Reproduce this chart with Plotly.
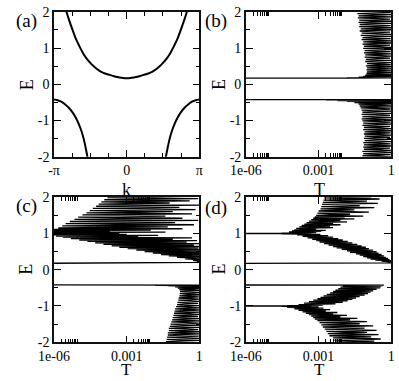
import plotly.graph_objects as go

SERIF = "Liberation Serif, Times New Roman, serif"
W, H = 399, 381

# ---- panel (a): band structure, k in units of pi ----
k_up = [-0.86, -0.84, -0.80, -0.75, -0.70, -0.65, -0.60, -0.55, -0.50, -0.45, -0.40,
        -0.35, -0.30, -0.25, -0.20, -0.15, -0.10, -0.05, 0.0, 0.05, 0.10, 0.15, 0.20,
        0.25, 0.30, 0.35, 0.40, 0.45, 0.50, 0.55, 0.60, 0.65, 0.70, 0.75, 0.80, 0.84, 0.86]
e_up = [2.2, 2.08, 1.82, 1.53, 1.26, 1.05, 0.86, 0.71, 0.59, 0.49, 0.41,
        0.345, 0.30, 0.27, 0.24, 0.21, 0.19, 0.175, 0.17, 0.175, 0.19, 0.21, 0.24,
        0.27, 0.30, 0.345, 0.41, 0.49, 0.59, 0.71, 0.86, 1.05, 1.26, 1.53, 1.82, 2.08, 2.2]
k_lo_left = [-1.0, -0.95, -0.90, -0.85, -0.80, -0.75, -0.70, -0.66, -0.62, -0.60, -0.58, -0.56, -0.54, -0.52]
k_lo_right = [1.0, 0.95, 0.90, 0.85, 0.80, 0.75, 0.70, 0.66, 0.62, 0.60, 0.58, 0.56, 0.54, 0.52]
e_lo = [-0.42, -0.44, -0.48, -0.55, -0.64, -0.76, -0.92, -1.09, -1.30, -1.44, -1.60, -1.79, -2.0, -2.25]

# ---- panel (b) ----
b_up_e = [0.168, 0.172, 0.178, 0.186, 0.196, 0.208, 0.222, 0.238, 0.256, 0.276, 0.298, 0.322,
          0.346, 0.372, 0.398, 0.426, 0.454, 0.482, 0.51, 0.54, 0.57, 0.60, 0.63, 0.66, 0.69,
          0.72, 0.75, 0.78, 0.81, 0.84, 0.87, 0.90, 0.93, 0.96, 0.99, 1.02, 1.05, 1.08, 1.11,
          1.14, 1.17, 1.20, 1.23, 1.26, 1.29, 1.32, 1.35, 1.38, 1.41, 1.44, 1.47, 1.50, 1.53,
          1.56, 1.59, 1.62, 1.65, 1.68, 1.71, 1.74, 1.77, 1.80, 1.83, 1.86, 1.89, 1.92, 1.95,
          1.98, 2.01, 2.04]
b_up_t = [1e-9, 1, 0.015, 1, 0.045, 1, 0.07, 1, 0.085, 1, 0.095, 1, 0.1, 1, 0.095, 1, 0.1, 1,
          0.09, 0.95, 0.1, 1, 0.085, 1, 0.09, 0.9, 0.08, 1, 0.085, 1, 0.075, 0.95, 0.08, 1,
          0.07, 1, 0.075, 0.9, 0.065, 1, 0.07, 1, 0.06, 0.95, 0.065, 1, 0.055, 1, 0.06, 0.9,
          0.05, 1, 0.055, 1, 0.048, 0.95, 0.05, 1, 0.045, 1, 0.048, 0.9, 0.042, 1, 0.045, 1,
          0.04, 0.95, 0.042, 1]
b_lo_e = [-0.418, -0.422, -0.428, -0.436, -0.446, -0.458, -0.472, -0.488, -0.506, -0.526,
          -0.548, -0.572, -0.598, -0.624, -0.652, -0.68, -0.71, -0.74, -0.77, -0.80, -0.83,
          -0.86, -0.89, -0.92, -0.95, -0.98, -1.01, -1.04, -1.07, -1.10, -1.13, -1.16, -1.19,
          -1.22, -1.25, -1.28, -1.31, -1.34, -1.37, -1.40, -1.43, -1.46, -1.49, -1.52, -1.55,
          -1.58, -1.61, -1.64, -1.67, -1.70, -1.73, -1.76, -1.79, -1.82, -1.85, -1.88, -1.91,
          -1.94, -1.97, -2.00, -2.03, -2.06]
b_lo_t = [1e-9, 1, 0.002, 1, 0.006, 1, 0.015, 1, 0.03, 1, 0.045, 1, 0.05, 1, 0.055,
          0.95, 0.06, 1, 0.065, 1, 0.06, 0.9, 0.065, 1, 0.06, 1, 0.065, 0.95, 0.07, 1,
          0.065, 0.9, 0.075, 1, 0.07, 1, 0.08, 0.95, 0.075, 1, 0.08, 0.9, 0.075, 1, 0.08,
          1, 0.07, 0.95, 0.075, 1, 0.07, 0.9, 0.075, 1, 0.065, 1, 0.07, 0.95, 0.065, 1,
          0.07, 1]

# ---- panel (c) ----
c_up_e = [0.168, 0.20, 0.22, 0.24, 0.26, 0.28, 0.30, 0.32, 0.34, 0.36, 0.38, 0.40, 0.42,
          0.44, 0.46, 0.48, 0.50, 0.52, 0.54, 0.56, 0.58, 0.60, 0.62, 0.64, 0.66, 0.68, 0.70,
          0.72, 0.74, 0.76, 0.78, 0.80, 0.82, 0.84, 0.86, 0.88, 0.90, 0.915, 0.93, 0.945,
          0.96, 0.975, 0.99, 1.005, 1.02, 1.035, 1.05, 1.065, 1.08, 1.095, 1.11, 1.13, 1.15,
          1.18, 1.21, 1.24, 1.27, 1.30, 1.33, 1.36, 1.39, 1.42, 1.45, 1.48, 1.51, 1.54, 1.57,
          1.60, 1.63, 1.66, 1.69, 1.72, 1.75, 1.78, 1.81, 1.84, 1.87, 1.90, 1.93, 1.96, 1.99,
          2.02, 2.05]
c_up_t = [1e-9, 1, 0.8, 1, 0.55, 1, 0.26, 1, 0.12, 1, 0.055, 1, 0.026, 1, 0.012, 1, 5.5e-3,
          1, 2.5e-3, 1, 1.1e-3, 0.9, 5e-4, 1, 2.4e-4, 0.6, 1.1e-4, 1, 5e-5, 0.3, 2.4e-5, 0.8,
          1.1e-5, 0.08, 5e-6, 0.5, 2.3e-6, 3e-3, 1.2e-6, 0.02, 5e-7, 1e-3, 3e-7, 5e-4, 3e-7,
          0.04, 4e-7, 2e-4, 6e-7, 0.01, 9e-7, 0.2, 1.5e-6, 0.05, 2.2e-6, 0.6, 3e-6, 0.1,
          4.5e-6, 0.9, 7e-6, 0.2, 1e-5, 0.04, 1.5e-5, 0.5, 2.2e-5, 0.08, 3e-5, 0.7, 4e-5,
          0.15, 5.5e-5, 1, 7e-5, 0.06, 9e-5, 0.4, 1.2e-4, 0.9, 1.6e-4, 0.2, 2e-4]
c_lo_e = [-0.418, -0.424, -0.43, -0.438, -0.448, -0.46, -0.474, -0.49, -0.508, -0.528, -0.55,
          -0.574, -0.60, -0.63, -0.66, -0.69, -0.72, -0.75, -0.78, -0.81, -0.84, -0.87, -0.90,
          -0.93, -0.96, -0.99, -1.02, -1.05, -1.08, -1.11, -1.14, -1.17, -1.20, -1.23, -1.26,
          -1.29, -1.32, -1.35, -1.38, -1.41, -1.44, -1.47, -1.50, -1.53, -1.56, -1.59, -1.62,
          -1.65, -1.68, -1.71, -1.74, -1.77, -1.80, -1.83, -1.86, -1.89, -1.92, -1.95, -1.98,
          -2.01, -2.04, -2.07]
c_lo_t = [1e-9, 1, 0.015, 1, 0.05, 1, 0.1, 1, 0.13, 1, 0.15, 1, 0.16, 1, 0.155, 1, 0.15,
          0.95, 0.14, 1, 0.135, 1, 0.125, 0.9, 0.12, 1, 0.11, 1, 0.1, 0.95, 0.095, 1, 0.09,
          1, 0.085, 0.9, 0.08, 1, 0.075, 1, 0.07, 0.95, 0.065, 1, 0.06, 1, 0.055, 0.9, 0.055,
          1, 0.05, 1, 0.05, 0.95, 0.047, 1, 0.045, 1, 0.042, 0.95, 0.042, 1]

# ---- panel (d) ----
d_up_e = [0.168, 0.19, 0.205, 0.22, 0.235, 0.25, 0.265, 0.28, 0.295, 0.31, 0.325, 0.34, 0.36,
          0.38, 0.40, 0.42, 0.44, 0.46, 0.48, 0.50, 0.52, 0.54, 0.56, 0.58, 0.60, 0.62, 0.64,
          0.66, 0.68, 0.70, 0.72, 0.74, 0.76, 0.78, 0.80, 0.82, 0.84, 0.86, 0.88, 0.90, 0.92,
          0.94, 0.96, 0.975, 0.99, 0.998, 1.0, 1.002, 1.01, 1.025, 1.04, 1.055, 1.07, 1.085,
          1.10, 1.12, 1.14, 1.16, 1.18, 1.20, 1.22, 1.24, 1.26, 1.28, 1.30, 1.32, 1.34, 1.36,
          1.38, 1.40, 1.42, 1.44, 1.46, 1.48, 1.50, 1.53, 1.56, 1.59, 1.62, 1.65, 1.68, 1.71,
          1.74, 1.77, 1.80, 1.83, 1.86, 1.89, 1.92, 1.95, 1.98, 2.01, 2.04]
d_up_t = [1e-9, 1, 0.7, 1, 0.4, 1, 0.22, 0.85, 0.14, 0.75, 0.1, 0.6, 0.07, 0.5, 0.05, 0.4,
          0.035, 0.3, 0.02, 0.25, 0.015, 0.18, 0.009, 0.12, 0.0056, 0.09, 0.004, 0.06, 0.0026,
          0.04, 0.0017, 0.025, 0.0011, 0.016, 8e-4, 0.01, 5.5e-4, 0.0065, 3.5e-4, 0.004,
          2.2e-4, 0.0025, 1.3e-4, 0.0012, 3e-5, 5e-4, 1e-9, 4e-4, 3e-5, 8e-4, 6e-5, 0.0013,
          8e-5, 0.002, 1e-4, 8e-4, 1.2e-4, 0.004, 1.6e-4, 0.003, 2e-4, 0.008, 2.6e-4, 0.004,
          3.2e-4, 0.015, 4e-4, 0.008, 5e-4, 0.03, 6e-4, 0.012, 7e-4, 0.07, 8e-4, 0.02, 9e-4,
          0.12, 1e-3, 0.03, 1.2e-3, 0.2, 1.3e-3, 0.05, 1.4e-3, 0.28, 1.5e-3, 0.1, 1.6e-3,
          0.33, 1.7e-3, 0.15, 1.8e-3]
d_lo_e = [-0.418, -0.425, -0.43, -0.44, -0.45, -0.465, -0.48, -0.50, -0.52, -0.54, -0.56,
          -0.58, -0.60, -0.62, -0.64, -0.66, -0.68, -0.70, -0.72, -0.74, -0.76, -0.78, -0.80,
          -0.82, -0.84, -0.86, -0.88, -0.90, -0.92, -0.94, -0.96, -0.975, -0.99, -0.998, -1.0,
          -1.002, -1.01, -1.025, -1.04, -1.06, -1.08, -1.10, -1.12, -1.14, -1.16, -1.18, -1.20,
          -1.22, -1.24, -1.26, -1.28, -1.30, -1.32, -1.34, -1.36, -1.38, -1.40, -1.43, -1.46,
          -1.49, -1.52, -1.55, -1.58, -1.61, -1.64, -1.67, -1.70, -1.73, -1.76, -1.79, -1.82,
          -1.85, -1.88, -1.91, -1.94, -1.97, -2.00, -2.03, -2.06]
d_lo_t = [1e-9, 0.5, 0.013, 0.45, 0.01, 0.38, 0.008, 0.35, 0.0065, 0.25, 0.005, 0.18, 0.004,
          0.14, 0.003, 0.11, 0.0022, 0.08, 0.0016, 0.05, 0.0012, 0.035, 9e-4, 0.025, 6e-4,
          0.016, 4e-4, 0.01, 2.5e-4, 0.005, 1.5e-4, 0.0015, 5e-5, 5e-4, 1e-9, 4e-4, 3e-5,
          0.001, 5e-5, 0.0016, 1e-4, 0.003, 1.5e-4, 0.002, 2.2e-4, 0.006, 3e-4, 0.004, 4e-4,
          0.015, 5e-4, 0.008, 6e-4, 0.04, 7e-4, 0.02, 9e-4, 0.1, 1.1e-3, 0.05, 1.3e-3, 0.18,
          1.5e-3, 0.08, 1.8e-3, 0.25, 2.1e-3, 0.1, 2.4e-3, 0.3, 2.8e-3, 0.15, 4e-3, 0.37,
          4.5e-3, 0.2, 5e-3, 0.4, 5.5e-3]

e_ticks = [-2, -1, 0, 1, 2]
e_ticklabels = ["-2", "-1", "0", "1", "2"]
e_minor = [-1.5, -0.5, 0.5, 1.5]
k_ticks = [-1, 0, 1]
k_ticklabels = ["-π", "0", "π"]
k_minor = [-0.75, -0.5, -0.25, 0.25, 0.5, 0.75]
t_ticks = [1e-6, 1e-3, 1]
t_ticklabels = ["1e-06", "0.001", "1"]
t_minor = [2e-6, 3e-6, 4e-6, 5e-6, 6e-6, 7e-6, 8e-6, 9e-6,
           2e-3, 3e-3, 4e-3, 5e-3, 6e-3, 7e-3, 8e-3, 9e-3]


def fx(p):
    return p / W


def fy(p):
    return 1 - p / H


fig = go.Figure()

thick = dict(color="black", width=2)
thin = dict(color="black", width=1.3, simplify=False)
fig.add_trace(go.Scatter(x=k_up, y=e_up, mode="lines", line=thick, line_shape="spline"))
fig.add_trace(go.Scatter(x=k_lo_left, y=e_lo, mode="lines", line=thick, line_shape="spline"))
fig.add_trace(go.Scatter(x=k_lo_right, y=e_lo, mode="lines", line=thick, line_shape="spline"))

for ax, (t, e) in [("2", (b_up_t, b_up_e)), ("2", (b_lo_t, b_lo_e)),
                   ("3", (c_up_t, c_up_e)), ("3", (c_lo_t, c_lo_e)),
                   ("4", (d_up_t, d_up_e)), ("4", (d_lo_t, d_lo_e))]:
    fig.add_trace(go.Scatter(x=t, y=e, mode="lines", line=thin,
                             xaxis="x" + ax, yaxis="y" + ax))

tickfont = dict(family=SERIF, size=14, color="black")
base = dict(showline=True, linecolor="#111", linewidth=1.5, mirror="ticks",
            ticks="inside", ticklen=7, tickwidth=1, tickcolor="black",
            showgrid=False, zeroline=False, tickfont=tickfont, tickmode="array")
minor_base = dict(ticks="inside", ticklen=4, tickwidth=1, tickcolor="black", showgrid=False)

yax = dict(base, range=[-2, 2], tickvals=e_ticks, ticktext=e_ticklabels,
           minor=dict(minor_base, tickvals=e_minor))
kax = dict(base, range=[-1, 1], tickvals=k_ticks, ticktext=k_ticklabels,
           minor=dict(minor_base, tickvals=k_minor))
tax = dict(base, type="log", range=[-6, 0], tickvals=t_ticks, ticktext=t_ticklabels,
           minor=dict(minor_base, tickvals=t_minor))

xl = [fx(40), fx(193)]
xr = [fx(242), fx(395)]
yt = [fy(156), fy(5)]
yb = [fy(349), fy(198)]

fig.update_layout(
    width=W, height=H,
    margin=dict(l=0, r=0, t=0, b=0),
    paper_bgcolor="white", plot_bgcolor="white",
    showlegend=False,
    xaxis=dict(kax, domain=xl, anchor="y"),
    yaxis=dict(yax, domain=yt, anchor="x"),
    xaxis2=dict(tax, domain=xr, anchor="y2"),
    yaxis2=dict(yax, domain=yt, anchor="x2"),
    xaxis3=dict(tax, domain=xl, anchor="y3"),
    yaxis3=dict(yax, domain=yb, anchor="x3"),
    xaxis4=dict(tax, domain=xr, anchor="y4"),
    yaxis4=dict(yax, domain=yb, anchor="x4"),
)

labels = [
    ("(a)", 11.5, 14.5, 19), ("(b)", 210.5, 14.5, 19),
    ("(c)", 11.5, 207.5, 19), ("(d)", 210.5, 209.5, 19),
    ("k", 116, 190, 18), ("T", 319, 191, 18),
    ("T", 116, 377.5, 17), ("T", 319, 377.5, 17),
]
for text, x, y, size in labels:
    fig.add_annotation(text=text, x=fx(x), y=fy(y), xref="paper", yref="paper",
                       showarrow=False, xanchor="center", yanchor="middle",
                       font=dict(family=SERIF, size=size, color="black"))
for x, y in [(11, 81), (214, 81), (11, 273), (214, 273)]:
    fig.add_annotation(text="E", x=fx(x), y=fy(y), xref="paper", yref="paper",
                       showarrow=False, textangle=-90, xanchor="center", yanchor="middle",
                       font=dict(family=SERIF, size=18, color="black"))

fig.write_html("out.html", config={"displayModeBar": False},
               post_script="document.body.style.margin = '0';")
